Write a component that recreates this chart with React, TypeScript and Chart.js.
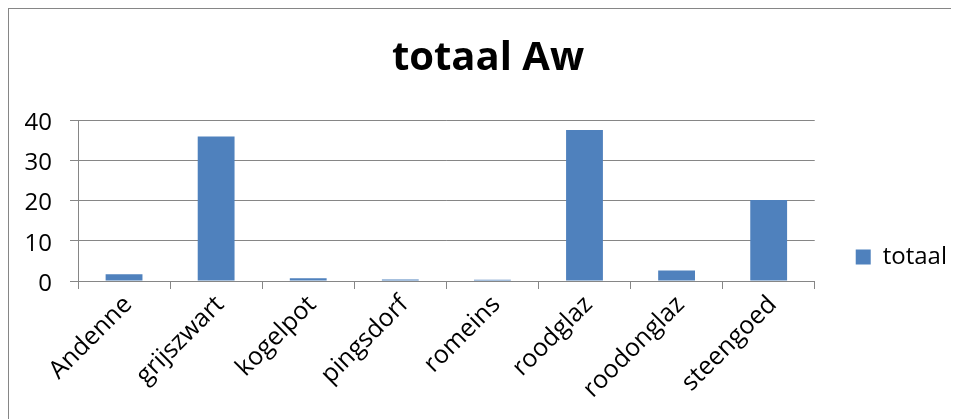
import React, { useEffect, useRef, useMemo } from 'react';
import { Chart, registerables } from 'chart.js';

Chart.register(...registerables);

// ---- data ----
const categories = ['Andenne', 'grijszwart', 'kogelpot', 'pingsdorf', 'romeins', 'roodglaz', 'roodonglaz', 'steengoed'];
const totaal = [1.7, 35.9, 0.7, 0.4, 0.3, 37.5, 2.6, 20.1];
const yTicks = [0, 10, 20, 30, 40];
const seriesName = 'totaal';
const titleText = 'totaal Aw';

// ---- style / layout ----
const FONT = "'Open Sans', sans-serif";
const GRAY = '#868686';
const BLUE = '#4f81bd';
const LABEL_SIZE = 24;
const XLABEL_SIZE = 25;
const TITLE_SIZE = 40;
const BOX = 15;
const CANVAS_H = 496;
const AREA_LEFT = 69;
const AREA_TOP = 111;
const AREA_RIGHT = 806;
const AREA_BOTTOM = 272;
const LEGEND_ITEM_X = 847;
const TITLE_CENTER_X = 479;
const TITLE_MID_Y = 50;

function measure(text: string, font: string): number {
  const c = document.createElement('canvas');
  const ctx = c.getContext('2d');
  if (!ctx) return 60;
  ctx.font = font;
  return ctx.measureText(text).width;
}

export default function App() {
  const ref = useRef<HTMLCanvasElement | null>(null);

  const dims = useMemo(() => {
    const tw = measure(seriesName, `${LABEL_SIZE}px ${FONT}`);
    const legendPad = LEGEND_ITEM_X - AREA_RIGHT;
    const itemWidth = BOX + LABEL_SIZE / 2 + tw;
    const width = Math.round(AREA_RIGHT + legendPad + itemWidth + 10);
    const padLeft = Math.max(0, 2 * TITLE_CENTER_X - width);
    return { width, legendPad, padLeft };
  }, []);

  useEffect(() => {
    document.documentElement.style.overflow = 'hidden';
    const canvas = ref.current;
    if (!canvas) return;
    const lineH = TITLE_SIZE * 1.2;
    const titleTop = TITLE_MID_Y - lineH / 2;
    const titleBottom = AREA_TOP - lineH - titleTop;
    const chart = new Chart(canvas, {
      type: 'bar',
      data: {
        labels: categories,
        datasets: [
          {
            label: seriesName,
            data: totaal,
            backgroundColor: BLUE,
            borderWidth: 0,
            barPercentage: 0.4,
            categoryPercentage: 1,
          },
        ],
      },
      options: {
        animation: false,
        responsive: false,
        devicePixelRatio: 1,
        layout: { padding: { left: dims.padLeft, top: 0, right: 0, bottom: 0 } },
        plugins: {
          title: {
            display: true,
            text: titleText,
            color: '#000',
            font: { family: FONT, size: TITLE_SIZE, weight: 'bold' },
            padding: { top: titleTop, bottom: titleBottom },
          },
          legend: {
            display: true,
            position: 'right',
            labels: {
              color: '#000',
              font: { family: FONT, size: LABEL_SIZE },
              boxWidth: BOX,
              boxHeight: BOX,
              padding: dims.legendPad,
            },
          },
          tooltip: { enabled: false },
        },
        scales: {
          x: {
            type: 'category',
            offset: true,
            grid: {
              offset: true,
              drawOnChartArea: false,
              drawTicks: true,
              tickLength: 8,
              color: GRAY,
              lineWidth: 1,
            },
            border: { display: true, color: GRAY, width: 1 },
            ticks: {
              color: '#000',
              font: { family: FONT, size: XLABEL_SIZE },
              minRotation: 45,
              maxRotation: 45,
              autoSkip: false,
              padding: 1,
              labelOffset: 4,
            },
            afterFit: (scale: any) => {
              scale.height = CANVAS_H - AREA_BOTTOM;
            },
          },
          y: {
            min: yTicks[0],
            max: yTicks[yTicks.length - 1],
            afterBuildTicks: (scale: any) => {
              scale.ticks = yTicks.map((v) => ({ value: v }));
            },
            grid: {
              color: GRAY,
              lineWidth: 1,
              drawTicks: true,
              tickLength: 8,
            },
            border: { display: true, color: GRAY, width: 1 },
            ticks: {
              color: '#000',
              font: { family: FONT, size: LABEL_SIZE },
              padding: 18,
              labelOffset: 3,
            },
            afterFit: (scale: any) => {
              scale.width = AREA_LEFT - dims.padLeft;
            },
          },
        },
      },
    });
    return () => {
      chart.destroy();
    };
  }, [dims]);

  return (
    <div
      style={{
        width: 951,
        height: 411,
        boxSizing: 'border-box',
        borderLeft: `1px solid ${GRAY}`,
        borderTop: `1px solid ${GRAY}`,
        overflow: 'hidden',
        background: '#fff',
      }}
    >
      <canvas ref={ref} width={dims.width} height={CANVAS_H} style={{ display: 'block' }} />
    </div>
  );
}
